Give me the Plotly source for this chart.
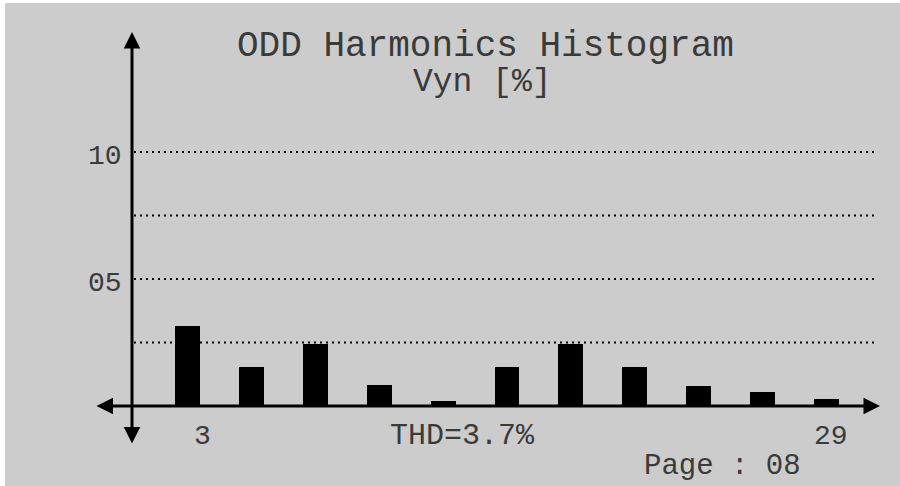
import plotly.graph_objects as go

# Werte (Vyn [%]) der ungeraden Harmonischen
harmonics = [1, 2, 3, 4, 5, 6, 7, 8, 9, 10, 11]
values = [3.15, 1.55, 2.45, 0.82, 0.2, 1.55, 2.45, 1.55, 0.8, 0.55, 0.28]

grid_levels = [2.5, 5, 7.5, 10]
ytick_vals = [10, 5]
ytick_text = ["10", "05"]
xlabel_pos = [1, 11]
xlabel_text = ["3", "29"]

title_line1 = "ODD Harmonics Histogram"
title_line2 = "Vyn [%]"
thd_text = "THD=3.7%"
page_text = "Page : 08"

W, H = 900, 486
FONT = "Liberation Mono"
TXT = "#3a3a3a"
BG = "#cccccc"

fig = go.Figure()
fig.add_trace(go.Bar(
    x=harmonics, y=values, width=0.39,
    marker=dict(color="black", line=dict(width=0)),
    hoverinfo="x+y",
))

shapes = []
# weisser Rand oben/links
shapes.append(dict(type="rect", xref="paper", yref="paper", x0=0, x1=1, y0=1 - 3 / H, y1=1,
                   fillcolor="white", line=dict(width=0), layer="below"))
shapes.append(dict(type="rect", xref="paper", yref="paper", x0=0, x1=5 / W, y0=0, y1=1,
                   fillcolor="white", line=dict(width=0), layer="below"))
# gepunktete Gitterlinien
for g in grid_levels:
    shapes.append(dict(type="line", xref="paper", yref="y", x0=134 / W, x1=878 / W, y0=g, y1=g,
                       line=dict(color="black", width=2, dash="2px,4px"), layer="below"))

annotations = []
# Achsen mit Pfeilen
arrow_style = dict(text="", showarrow=True, arrowhead=2, startarrowhead=2, arrowside="end+start",
                   arrowwidth=3, arrowsize=1.1, startarrowsize=1.1, arrowcolor="black",
                   standoff=0, startstandoff=0)
annotations.append(dict(xref="paper", yref="paper", x=132 / W, y=1 - 32 / H, ax=0, ay=445 - 32,
                        **arrow_style))
annotations.append(dict(xref="paper", yref="paper", x=880 / W, y=1 - 406 / H, ax=95 - 880, ay=0,
                        **arrow_style))

for v, t in zip(ytick_vals, ytick_text):
    annotations.append(dict(xref="paper", yref="y", x=124 / W, y=v, text=t, showarrow=False,
                            xanchor="right", yanchor="middle", yshift=-5,
                            font=dict(family=FONT, size=28, color=TXT)))

for p, t, s in zip(xlabel_pos, xlabel_text, [15, 4]):
    annotations.append(dict(xref="x", yref="paper", x=p, y=1 - 436 / H, text=t, showarrow=False,
                            xanchor="center", yanchor="middle", xshift=s,
                            font=dict(family=FONT, size=28, color=TXT)))

annotations.append(dict(xref="paper", yref="paper", x=485 / W, y=1 - 46 / H, text=title_line1,
                        showarrow=False, xanchor="center", yanchor="middle",
                        font=dict(family=FONT, size=36, color=TXT)))
annotations.append(dict(xref="paper", yref="paper", x=482 / W, y=1 - 82 / H, text=title_line2,
                        showarrow=False, xanchor="center", yanchor="middle",
                        font=dict(family=FONT, size=33, color=TXT)))
annotations.append(dict(xref="paper", yref="paper", x=462 / W, y=1 - 436 / H, text=thd_text,
                        showarrow=False, xanchor="center", yanchor="middle",
                        font=dict(family=FONT, size=30, color=TXT)))
annotations.append(dict(xref="paper", yref="paper", x=722 / W, y=1 - 466 / H, text=page_text,
                        showarrow=False, xanchor="center", yanchor="middle",
                        font=dict(family=FONT, size=29, color=TXT)))

fig.update_layout(
    width=W, height=H,
    margin=dict(l=0, r=0, t=0, b=0),
    paper_bgcolor=BG, plot_bgcolor=BG,
    showlegend=False,
    xaxis=dict(range=[-1.934, 12.15], visible=False, fixedrange=True),
    yaxis=dict(range=[-3.15, 15.98], visible=False, fixedrange=True),
    shapes=shapes,
    annotations=annotations,
    bargap=0,
)

# Seitenrand entfernen, damit die Grafik das Fenster genau fuellt
fig.write_html("out.html", config={"displayModeBar": False},
               post_script="document.body.style.margin='0';"
                           "document.body.style.background='#cccccc';")
